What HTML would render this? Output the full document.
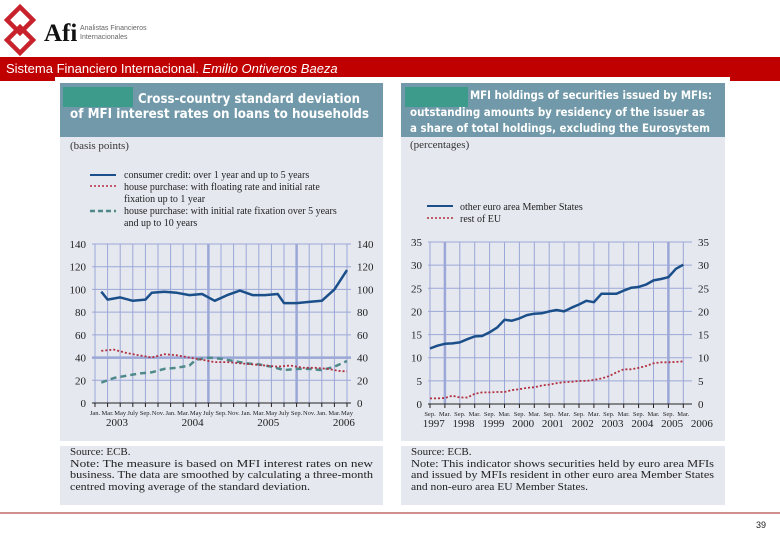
<!DOCTYPE html>
<html><head><meta charset="utf-8">
<style>
body{margin:0;background:#fff;width:780px;height:540px;overflow:hidden;font-family:"Liberation Serif",serif}
svg text{font-family:"Liberation Serif",serif}
</style></head><body>
<svg id="s" width="780" height="540" viewBox="0 0 780 540" xmlns="http://www.w3.org/2000/svg">
<g>
<path d="M20 7 L33 20 L20 33 L7 20 Z M20 27 L33 40 L20 53 L7 40 Z" fill="none" stroke="#c8232c" stroke-width="4.5"/>
<text x="44" y="41" font-size="25" font-weight="bold" fill="#111">Afi</text>
<text x="80" y="30" font-size="7" fill="#666" style="font-family:'Liberation Sans'">Analistas Financieros</text>
<text x="80" y="39" font-size="7" fill="#666" style="font-family:'Liberation Sans'">Internacionales</text>
</g>
<rect x="0" y="57" width="780" height="24" fill="#c00000"/>
<text x="6" y="73" font-size="13" fill="#fff" style="font-family:'Liberation Sans'">Sistema Financiero Internacional. <tspan font-style="italic">Emilio Ontiveros Baeza</tspan></text>
<rect x="55" y="77" width="675" height="10" fill="#fff"/>
<g>
<rect x="60" y="83" width="323" height="358" fill="#e6e8f0"/>
<rect x="60" y="83" width="323" height="54" fill="#7199a9"/>
<rect x="63" y="87" width="70" height="20" fill="#3d9b8c"/>
<text x="138" y="103" font-size="13" font-weight="bold" fill="#fff" style="font-family:'DejaVu Sans Condensed','DejaVu Sans',sans-serif" textLength="222" lengthAdjust="spacingAndGlyphs">Cross-country standard deviation</text>
<text x="70" y="118" font-size="13" font-weight="bold" fill="#fff" style="font-family:'DejaVu Sans Condensed','DejaVu Sans',sans-serif" textLength="299" lengthAdjust="spacingAndGlyphs">of MFI interest rates on loans to households</text>
<text x="70" y="149" font-size="11" fill="#333">(basis points)</text>
<line x1="90" y1="175" x2="116" y2="175" stroke="#1a4f8a" stroke-width="2"/>
<line x1="90" y1="186" x2="116" y2="186" stroke="#b03040" stroke-width="1.5" stroke-dasharray="2,2"/>
<line x1="90" y1="211" x2="116" y2="211" stroke="#4f8a8a" stroke-width="2.5" stroke-dasharray="5,3"/>
<text font-size="10" fill="#222"><tspan x="124" y="178">consumer credit: over 1 year and up to 5 years</tspan><tspan x="124" y="190">house purchase: with floating rate and initial rate</tspan><tspan x="124" y="202">fixation up to 1 year</tspan><tspan x="124" y="214">house purchase: with initial rate fixation over 5 years</tspan><tspan x="124" y="226">and up to 10 years</tspan></text>
<rect x="60" y="441" width="323" height="5" fill="#fff"/>
<rect x="60" y="446" width="323" height="59" fill="#e6e8f0"/>
<text x="70" y="455" font-size="11" fill="#222">Source: ECB.</text>
<text x="70" y="467" font-size="11" fill="#222" textLength="303" lengthAdjust="spacingAndGlyphs">Note: The measure is based on MFI interest rates on new</text>
<text x="70" y="478" font-size="11" fill="#222" textLength="303" lengthAdjust="spacingAndGlyphs">business. The data are smoothed by calculating a three-month</text>
<text x="70" y="490" font-size="11" fill="#222" textLength="240" lengthAdjust="spacingAndGlyphs">centred moving average of the standard deviation.</text>
</g>
<g>
<rect x="401" y="83" width="324" height="358" fill="#e6e8f0"/>
<rect x="401" y="83" width="324" height="54" fill="#7199a9"/>
<rect x="405" y="87" width="63" height="20" fill="#3d9b8c"/>
<text x="470" y="99" font-size="11.5" font-weight="bold" fill="#fff" style="font-family:'DejaVu Sans Condensed','DejaVu Sans',sans-serif" textLength="242" lengthAdjust="spacingAndGlyphs">MFI holdings of securities issued by MFIs:</text>
<text x="410" y="116" font-size="11.5" font-weight="bold" fill="#fff" style="font-family:'DejaVu Sans Condensed','DejaVu Sans',sans-serif" textLength="295" lengthAdjust="spacingAndGlyphs">outstanding amounts by residency of the issuer as</text>
<text x="410" y="132" font-size="11.5" font-weight="bold" fill="#fff" style="font-family:'DejaVu Sans Condensed','DejaVu Sans',sans-serif" textLength="300" lengthAdjust="spacingAndGlyphs">a share of total holdings, excluding the Eurosystem</text>
<text x="410" y="148" font-size="11" fill="#333">(percentages)</text>
<line x1="427" y1="206" x2="453" y2="206" stroke="#1a4f8a" stroke-width="2"/>
<line x1="427" y1="218" x2="453" y2="218" stroke="#b03040" stroke-width="1.5" stroke-dasharray="2,2"/>
<text font-size="10" fill="#222"><tspan x="460" y="210">other euro area Member States</tspan><tspan x="460" y="222">rest of EU</tspan></text>
<rect x="401" y="441" width="324" height="5" fill="#fff"/>
<rect x="401" y="446" width="324" height="59" fill="#e6e8f0"/>
<text x="411" y="455" font-size="11" fill="#222">Source: ECB.</text>
<text x="411" y="467" font-size="11" fill="#222" textLength="303" lengthAdjust="spacingAndGlyphs">Note: This indicator shows securities held by euro area MFIs</text>
<text x="411" y="478" font-size="11" fill="#222" textLength="303" lengthAdjust="spacingAndGlyphs">and issued by MFIs resident in other euro area Member States</text>
<text x="411" y="490" font-size="11" fill="#222" textLength="177" lengthAdjust="spacingAndGlyphs">and non-euro area EU Member States.</text>
</g>
<line x1="0" y1="513" x2="780" y2="513" stroke="#a02020" stroke-width="1"/>
<text x="756" y="528" font-size="9" fill="#222" style="font-family:'Liberation Sans'">39</text>
<g id="c1"></g>
<g id="c2"></g>
</svg>
<script>
// Left chart data: month index from Jan 2003
const leftMonths=[1,2,4,6,8,9,11,13,15,17,19,21,23,25,27,29,30,32,34,36,38,40];
const consumerCredit=[98,91,93,90,91,97,98,97,95,96,90,95,99,95,95,96,88,88,89,90,100,117];
const housePurchaseMonths=[1,3,5,7,9,11,13,15,17,19,21,23,25,27,29,31,33,35,37,39,40];
const houseFloating=[46,47,44,42,40,43,42,40,38,36,36,35,34,33,32,33,31,31,30,28,28];
const houseFixedMonths=[1,3,5,7,9,11,13,15,16,18,20,22,24,26,28,30,32,34,36,38,40];
const houseFixed=[18,22,24,26,27,30,31,33,38,40,39,37,35,34,32,29,30,30,29,32,37];
const leftTickLabels=["Jan.","Mar.","May","July","Sep.","Nov.","Jan.","Mar.","May","July","Sep.","Nov.","Jan.","Mar.","May","July","Sep.","Nov.","Jan.","Mar.","May"];
const leftYears=["2003","2004","2005","2006"];
const leftYTicks=[0,20,40,60,80,100,120,140];
// Right chart data: quarter index from Sep 1997
const otherEuro=[12.0,12.6,13.0,13.1,13.3,14.0,14.6,14.7,15.5,16.5,18.2,18.0,18.5,19.2,19.5,19.6,20.0,20.3,20.0,20.8,21.5,22.3,22.0,23.8,23.8,23.8,24.5,25.1,25.3,25.8,26.7,27.0,27.4,29.2,30.1];
const restEU=[1.2,1.2,1.3,1.8,1.4,1.4,2.2,2.5,2.5,2.6,2.6,3.0,3.2,3.5,3.6,4.0,4.2,4.5,4.7,4.8,5.0,5.0,5.2,5.5,6.0,6.8,7.5,7.5,7.8,8.2,8.8,9.0,9.0,9.1,9.2];
const rightTickLabels=["Sep.","Mar.","Sep.","Mar.","Sep.","Mar.","Sep.","Mar.","Sep.","Mar.","Sep.","Mar.","Sep.","Mar.","Sep.","Mar.","Sep.","Mar."];
const rightYears=["1997","1998","1999","2000","2001","2002","2003","2004","2005","2006"];
const rightYTicks=[0,5,10,15,20,25,30,35];

const NS="http://www.w3.org/2000/svg";
function mk(p,t,a){const e=document.createElementNS(NS,t);for(const k in a)e.setAttribute(k,a[k]);p.appendChild(e);return e;}

function drawChart(g,o){
  mk(g,'rect',{x:o.x0,y:o.y1,width:o.x1-o.x0,height:o.y0-o.y1,fill:'#e6e8f0'});
  const X=o.X,Y=o.Y;
  o.vgrid.forEach((v,i)=>{const l=mk(g,'line',{x1:X(v),x2:X(v),y1:o.y1,y2:o.y0,stroke:'#9ba7d6','stroke-width':o.thickV.includes(i)?2.5:1});
    
    });
  o.yt.forEach(v=>{const l=mk(g,'line',{x1:o.x0,x2:o.x1,y1:Y(v),y2:Y(v),stroke:'#9ba7d6','stroke-width':v===o.thickH?2.5:1});
    
    
    const a=mk(g,'text',{x:o.x0-6,y:Y(v)+4,'font-size':11,'text-anchor':'end',fill:'#222'});a.textContent=v;
    
    
    const b=mk(g,'text',{x:o.x1+6,y:Y(v)+4,'font-size':11,fill:'#222'});b.textContent=v;
    
    });
  mk(g,'line',{x1:o.x0,x2:o.x1,y1:o.y0,y2:o.y0,stroke:'#222','stroke-width':1});
  o.labels.forEach((t,i)=>{const xx=X(o.tickPos(i));mk(g,'line',{x1:xx,x2:xx,y1:o.y0,y2:o.y0+4,stroke:'#222'});
    const a=mk(g,'text',{x:xx,y:o.y0+12,'font-size':6.5,'text-anchor':'middle',fill:'#222'});a.textContent=t;
    
    });
  o.years.forEach((t,i)=>{const a=mk(g,'text',{x:X(o.yearPos(i)),y:o.y0+23,'font-size':11,'text-anchor':'middle',fill:'#222'});a.textContent=t;
    
    });
  o.series.forEach(s=>{const d=s.ys.map((v,i)=>(i?'L':'M')+X(s.xs[i]).toFixed(1)+' '+Y(v).toFixed(1)).join(' ');
    const p=mk(g,'path',{d:d,fill:'none',stroke:s.c,'stroke-width':s.w,'stroke-dasharray':s.dash||'none','stroke-linejoin':'round'});
    
    });
}
const L={x0:92,x1:351,y0:403,y1:244};
L.X=m=>95+m*6.3;L.Y=v=>L.y0-v/140*(L.y0-L.y1);
L.yt=leftYTicks;L.thickH=40;
L.vgrid=leftTickLabels.map((_,i)=>i*2);L.thickV=[9,16];
L.labels=leftTickLabels;L.tickPos=i=>i*2;
L.years=leftYears;L.yearPos=i=>i*12+3.5;
L.series=[
 {xs:houseFixedMonths,ys:houseFixed,c:'#4f8a8a',w:2.5,dash:'6,4',name:'house-fixed-line'},
 {xs:housePurchaseMonths,ys:houseFloating,c:'#b03040',w:1.8,dash:'2,2',name:'house-floating-line'},
 {xs:leftMonths,ys:consumerCredit,c:'#1a4f8a',w:2.5,name:'consumer-credit-line'}];
drawChart(document.getElementById('c1'),L);
const R={x0:428,x1:692,y0:404,y1:242};
R.X=q=>430+q*7.45;R.Y=v=>R.y0-v/35*(R.y0-R.y1);
R.yt=rightYTicks;R.thickH=-1;
R.vgrid=rightTickLabels.map((_,i)=>i*2);R.thickV=[1,16];
R.labels=rightTickLabels;R.tickPos=i=>i*2;
R.years=rightYears;R.yearPos=i=>i*4+0.5;
R.series=[
 {xs:restEU.map((_,i)=>i),ys:restEU,c:'#b03040',w:1.8,dash:'2,2',name:'rest-of-eu-line'},
 {xs:otherEuro.map((_,i)=>i),ys:otherEuro,c:'#1a4f8a',w:2.5,name:'other-euro-line'}];
drawChart(document.getElementById('c2'),R);
</script>
</body></html>
